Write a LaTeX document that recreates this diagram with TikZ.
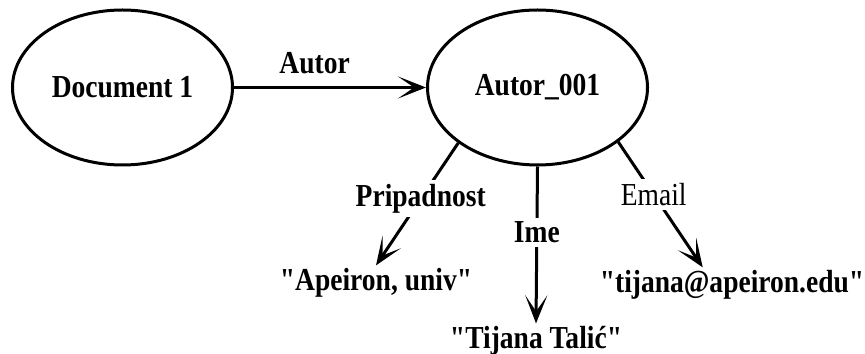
\documentclass[tikz,border=0pt]{standalone}
\usepackage{fontspec}
\setmainfont{Liberation Serif}[FakeStretch=0.86, Ligatures=TeXOff]
\usetikzlibrary{shapes.geometric, arrows.meta}

\begin{document}
\begin{tikzpicture}[x=0.5pt, y=0.5pt, >={Stealth[length=14pt, width=11pt, inset=8pt]},
  every node/.style={font=\fontsize{16}{18}\selectfont\bfseries},
  res/.style={ellipse, draw, line width=1.5pt, minimum width=110pt, minimum height=77.5pt, inner sep=0pt},
  val/.style={inner sep=1pt, anchor=base},
  rel/.style={fill=white, inner sep=2pt},
  link/.style={->, line width=1.5pt}]
  \useasboundingbox (0,0) rectangle (865,353);
  % resources
  \node[res] (doc) at (122.5,265.5) {Document 1};
  \node[res] (autor) at (537.5,265.5) {Autor\_001};
  % literal values
  \node[val] (univ) at (376,63) {"Apeiron, univ"};
  \node[val] (punoime) at (536,5) {"Tijana Talić"};
  \node[val] (mail) at (732,61) {"tijana@apeiron.edu"};
  % properties
  \draw[link] (doc) -- node[rel, above=4pt, pos=0.42] {Autor} (autor);
  \draw[link] (autor.215.6) -- node[rel, pos=0.456] {Pripadnost} (univ.north);
  \draw[link] (autor.south) -- node[rel, pos=0.42] {Ime} (punoime.north);
  \draw[link] (autor.326) -- node[rel, pos=0.42, font=\fontsize{16}{18}\selectfont\mdseries] {Email} (mail.150);
\end{tikzpicture}
\end{document}
